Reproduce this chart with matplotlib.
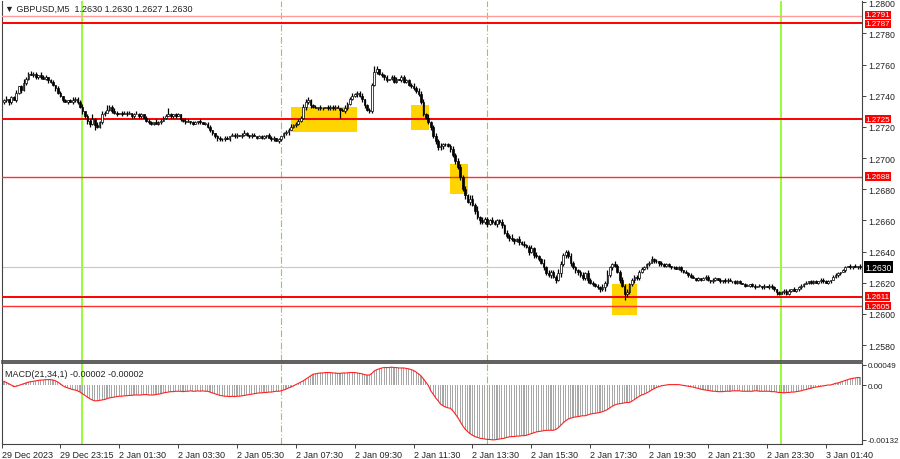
import numpy as np
import matplotlib.pyplot as plt
import matplotlib.transforms as mtransforms
from matplotlib.patches import Rectangle

plt.rcParams['font.family'] = ['Liberation Sans', 'DejaVu Sans']

# GBPUSD M5 closes, pips above 1.2600 (one value per bar)
close_pips = [
    137, 138, 136, 139, 137, 142, 146, 144, 148, 151,
    154, 153, 154, 152, 153, 152, 151, 152, 150, 149,
    147, 145, 142, 140, 137, 136, 137, 136, 137, 138,
    136, 133, 130, 127, 124, 122, 125, 121, 120, 123,
    128, 129, 131, 133, 130, 129, 128, 129, 128, 129,
    128, 129, 127, 128, 128, 127, 128, 126, 124, 123,
    122, 123, 122, 123, 124, 126, 127, 128, 127, 128,
    127, 128, 125, 124, 123, 124, 123, 122, 123, 124,
    123, 122, 122, 120, 118, 116, 114, 113, 112, 112,
    113, 112, 114, 115, 114, 115, 114, 115, 116, 115,
    114, 115, 114, 113, 114, 113, 114, 115, 113, 112,
    113, 111, 112, 114, 116, 117, 118, 120, 121, 122,
    124, 126, 133, 136, 137, 134, 133, 132, 133, 132,
    132, 133, 132, 133, 132, 133, 132, 131, 130, 132,
    135, 138, 140, 141, 142, 140, 138, 134, 131, 130,
    147, 155, 157, 154, 153, 152, 150, 151, 152, 149,
    151, 150, 152, 149, 150, 147, 146, 145, 143, 141,
    136, 128, 126, 123, 120, 114, 111, 107, 108, 109,
    109, 108, 106, 102, 98, 94, 88, 80, 76, 72,
    74, 70, 66, 62, 60, 59, 61, 58, 60, 59,
    58, 60, 59, 57, 52, 50, 49, 48, 47, 48,
    46, 45, 44, 43, 40, 42, 38, 37, 35, 33,
    30, 26, 25, 27, 24, 22, 26, 32, 38, 40,
    37, 33, 30, 28, 27, 25, 23, 26, 22, 20,
    19, 18, 17, 16, 17, 20, 25, 30, 32, 31,
    27, 22, 18, 13, 14, 19, 22, 24, 23, 27,
    29, 30, 32, 33, 35, 34, 34, 33, 32, 31,
    32, 31, 30, 30, 29, 30, 28, 27, 26, 25,
    24, 23, 22, 23, 22, 23, 24, 22, 21, 22,
    23, 22, 21, 22, 21, 22, 21, 21, 20, 21,
    20, 19, 18, 18, 19, 18, 17, 18, 18, 17,
    18, 17, 18, 17, 16, 14, 13, 14, 15, 13,
    15, 16, 15, 16, 17, 18, 19, 20, 21, 20,
    21, 20, 21, 22, 21, 20, 21, 22, 24, 25,
    26, 27, 28, 30, 31, 30, 31, 30, 31, 30,
]
first_open_pips = 136

# upper / lower shadow length in pips, one digit per bar
wick_up = [
    "1201120131", "1211021101", "1011010121", "1120113121", "2131121011",
    "1101211011", "1021111410", "1101210110", "1011100111", "1101110121",
    "0110111011", "1010111211", "1122211101", "1011111012", "1121112011",
    "1420111011", "1011111212", "2212112121", "1112122121", "2213121112",
    "1112121211", "2121121211", "2121113211", "1211112121", "1111213112",
    "1121211111", "1111211011", "1101111011", "1101011101", "1010111011",
    "1011011010", "1011101111", "1010111101", "1101111011", "1011010101",
]
wick_dn = [
    "1121011211", "1011110121", "1211101011", "1121221311", "1101111010",
    "1011011011", "1101101011", "1011101101", "1011111211", "1010110111",
    "1101011101", "1011112011", "1112121011", "1011110501", "1111212211",
    "1111121011", "1011111111", "1111212222", "1121212121", "2121211211",
    "1212112121", "2111212111", "2112121212", "1212211121", "1112122121",
    "1214211211", "1111011211", "1111011101", "1011101111", "1011110111",
    "1010111011", "1011121011", "1101111011", "1011101101", "1101011011",
]

# MACD(21,34,1) in units of 0.00001
macd_e5 = [
    9, 6, 3, 0, -4, -3, -1, 1, 3, 5,
    7, 8, 9, 10, 11, 12, 12, 13, 13, 13,
    12, 10, 7, 3, -2, -5, -7, -9, -11, -12,
    -14, -17, -21, -25, -29, -33, -36, -38, -38, -37,
    -36, -35, -33, -31, -30, -29, -28, -27, -27, -26,
    -26, -25, -25, -24, -24, -24, -24, -23, -23, -24,
    -24, -24, -23, -22, -21, -19, -18, -17, -16, -16,
    -15, -15, -15, -16, -15, -15, -14, -15, -15, -14,
    -15, -14, -15, -15, -17, -19, -21, -23, -25, -26,
    -27, -27, -28, -27, -28, -27, -27, -26, -25, -24,
    -23, -22, -21, -20, -19, -19, -18, -18, -17, -17,
    -16, -15, -15, -14, -12, -10, -7, -5, -2, 1,
    4, 7, 10, 14, 18, 22, 26, 27, 28, 29,
    29, 30, 30, 30, 29, 29, 28, 28, 29, 29,
    29, 30, 30, 30, 29, 28, 27, 25, 24, 24,
    28, 34, 37, 39, 41, 42, 42, 42, 43, 42,
    42, 41, 41, 41, 40, 39, 37, 35, 31, 27,
    22, 15, 7, -1, -14, -22, -31, -38, -46, -50,
    -53, -55, -56, -62, -70, -78, -88, -98, -106, -112,
    -117, -121, -124, -126, -128, -129, -130, -131, -131, -132,
    -132, -131, -130, -129, -128, -126, -125, -124, -124, -123,
    -123, -122, -122, -121, -119, -117, -115, -113, -112, -111,
    -110, -109, -109, -109, -109, -107, -103, -97, -91, -86,
    -82, -80, -78, -77, -76, -75, -74, -74, -72, -70,
    -69, -68, -67, -66, -64, -62, -59, -55, -51, -48,
    -46, -45, -44, -43, -42, -42, -39, -35, -31, -27,
    -24, -22, -19, -16, -12, -9, -6, -4, -2, -1,
    0, 1, 1, 1, 1, 1, 0, -1, -2, -3,
    -4, -5, -7, -8, -10, -11, -12, -13, -14, -15,
    -15, -16, -16, -16, -15, -15, -15, -14, -14, -14,
    -14, -15, -15, -15, -15, -15, -14, -14, -15, -15,
    -15, -15, -15, -16, -16, -17, -18, -18, -19, -18,
    -18, -17, -17, -16, -15, -14, -12, -11, -9, -8,
    -6, -5, -4, -3, -2, -1, 0, 0, 2, 4,
    5, 7, 9, 11, 13, 15, 16, 17, 18, 18,
]

levels = [1.2791, 1.2787, 1.2725, 1.2688, 1.2611, 1.2605]
level_colors = ['#FF9C9C', '#FF0000', '#FF0000', '#FF3030', '#FF0000', '#FF3030']
level_widths = [1.0, 1.4, 1.4, 1.0, 1.4, 1.0]
last_price = 1.2630

# yellow boxes: (first bar, last bar, low, high)
zones = [(117.0, 143.9, 1.2717, 1.2733),
         (165.9, 173.3, 1.2718, 1.2734),
         (182.0, 189.0, 1.2677, 1.2696),
         (247.9, 258.1, 1.2599, 1.2619)]

day_lines = [31.8, 316.8]
session_lines = [112.9, 196.9]

time_ticks = [-0.6, 23, 47, 71, 95, 119, 143, 167, 191, 215, 239, 263, 287, 311, 335]
time_labels = ['29 Dec 2023', '29 Dec 23:15', '2 Jan 01:30', '2 Jan 03:30', '2 Jan 05:30',
               '2 Jan 07:30', '2 Jan 09:30', '2 Jan 11:30', '2 Jan 13:30', '2 Jan 15:30',
               '2 Jan 17:30', '2 Jan 19:30', '2 Jan 21:30', '2 Jan 23:30', '3 Jan 01:40']

price_ticks = [1.2580, 1.2600, 1.2620, 1.2640, 1.2660, 1.2680, 1.2700,
               1.2720, 1.2740, 1.2760, 1.2780, 1.2800]

c = 1.26 + np.array(close_pips) / 1e4
o = np.concatenate([[1.26 + first_open_pips / 1e4], c[:-1]])
up = np.array([int(ch) for ch in ''.join(wick_up)]) / 1e4
dn = np.array([int(ch) for ch in ''.join(wick_dn)]) / 1e4
hi = np.maximum(o, c) + up
lo = np.minimum(o, c) - dn
x = np.arange(len(c))
m = np.array(macd_e5) / 1e5

fig = plt.figure(figsize=(9, 4.6), dpi=100)
ax = fig.add_axes([2 / 900, 1 - 362 / 460, 860 / 900, 360 / 460])
ax2 = fig.add_axes([2 / 900, 1 - 445 / 460, 860 / 900, 81 / 460])

for a in (ax, ax2):
    a.set_xlim(-0.8, 349.8)
    a.yaxis.tick_right()
    a.tick_params(axis='y', labelsize=6.3, length=3, width=0.6, pad=1.5, colors='#222222')
    a.spines['top'].set_visible(False)
    for s in ('left', 'right', 'bottom'):
        a.spines[s].set_color('#444444')
    for d in day_lines:
        a.axvline(d, color='#7CFC00', lw=1.1, zorder=1)
    for d in session_lines:
        a.axvline(d, color='#7CE030', lw=0.8, ls=(0, (6, 2, 1, 2)), zorder=1)
ax2.spines['top'].set_visible(True)
ax2.spines['top'].set_color('#444444')
ax2.spines['top'].set_linewidth(1.2)
ax.spines['bottom'].set_linewidth(1.2)

# price panel
ax.set_ylim(1.25698, 1.28008)
ax.set_xticks([])
ax.set_yticks(price_ticks)
ax.set_yticklabels(['%.4f' % p for p in price_ticks])

for x0, x1, p0, p1 in zones:
    ax.add_patch(Rectangle((x0, p0), x1 - x0, p1 - p0, facecolor='#FFD400', edgecolor='none', zorder=2))

ax.axhline(last_price, color='#C8C8C8', lw=0.8, zorder=1)
for lv, col, lw in zip(levels, level_colors, level_widths):
    ax.axhline(lv, color=col, lw=lw, zorder=3)

ax.vlines(x, lo, hi, color='black', lw=0.9, zorder=4)
body = np.maximum(np.abs(c - o), 0.000025)
bull = c >= o
ax.bar(x[bull], body[bull], bottom=np.minimum(o, c)[bull], width=0.7,
       color='white', edgecolor='black', lw=0.5, zorder=5)
ax.bar(x[~bull], body[~bull], bottom=np.minimum(o, c)[~bull], width=0.7,
       color='black', edgecolor='black', lw=0.5, zorder=5)

trans = mtransforms.blended_transform_factory(ax.transAxes, ax.transData)
# the two top labels sit almost on each other, push them apart a little
label_nudge = [1.0, -1.0, 0, 0, 0, 0]
for lv, dy in zip(levels, label_nudge):
    tr = mtransforms.offset_copy(trans, fig=fig, x=0, y=dy, units='points')
    ax.text(1.004, lv, '%.4f' % lv, transform=tr, fontsize=5.8, color='white',
            ha='left', va='center', zorder=10, clip_on=False,
            bbox=dict(boxstyle='square,pad=0.1', fc='#FF0000', ec='none'))
ax.text(1.004, last_price, '%.4f' % last_price, transform=trans, fontsize=6.2, color='white',
        ha='left', va='center', zorder=10, clip_on=False,
        bbox=dict(boxstyle='square,pad=0.15', fc='black', ec='none'))

ax.text(0.004, 0.992, '\u25bc GBPUSD,M5  1.2630 1.2630 1.2627 1.2630', transform=ax.transAxes,
        fontsize=6.5, va='top', ha='left', color='#222222')

# MACD panel
ax2.set_ylim(-0.00142, 0.00053)
ax2.bar(x, m, width=0.45, color='#A8A8A8', lw=0, zorder=2)
ax2.plot(x, m, color='#FF2020', lw=0.8, zorder=3)
ax2.set_yticks([0.00049, 0.0, -0.00132])
ax2.set_yticklabels(['0.00049', '0.00', '-0.00132'])
ax2.tick_params(axis='y', labelsize=5.8, pad=1)
ax2.set_xticks(time_ticks)
ax2.set_xticklabels(time_labels, ha='left')
ax2.tick_params(axis='x', labelsize=6.5, length=3, width=0.6, pad=1, colors='#222222')
ax2.text(0.004, 0.93, 'MACD(21,34,1) -0.00002 -0.00002', transform=ax2.transAxes,
         fontsize=6.5, va='top', ha='left', color='#222222')

fig.savefig('out.png', dpi=100, facecolor='white')
